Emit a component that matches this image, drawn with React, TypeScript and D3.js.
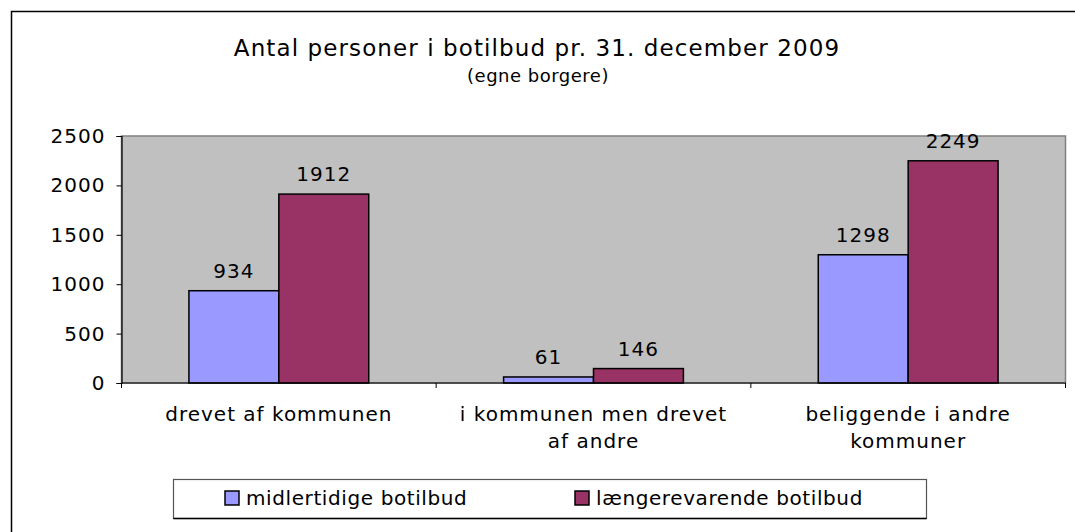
import { useEffect, useRef } from "react";
import * as d3 from "d3";

const categories = [
  ["drevet af kommunen"],
  ["i kommunen men drevet", "af andre"],
  ["beliggende i andre", "kommuner"],
];
const seriesNames = ["midlertidige botilbud", "længerevarende botilbud"];
const midlertidige = [934, 61, 1298];
const laengerevarende = [1912, 146, 2249];
const yTicks = [0, 500, 1000, 1500, 2000, 2500];
const colors = ["#9999FF", "#993366"];

const FONT = "'DejaVu Sans', Verdana, sans-serif";

export default function App() {
  const svgElem = useRef<SVGSVGElement>(null);

  useEffect(() => {
    const width = 1075;
    const height = 532;
    const svg = d3.select(svgElem.current);
    svg.selectAll("*").remove();
    svg.attr("width", width).attr("height", height);

    // chart frame (right and bottom edges are cut off in the original)
    svg
      .append("rect")
      .attr("x", 11.5)
      .attr("y", 11.5)
      .attr("width", width + 20)
      .attr("height", height + 20)
      .attr("fill", "#fff")
      .attr("stroke", "#000")
      .attr("stroke-width", 1.5);

    svg
      .append("text")
      .attr("x", 537)
      .attr("y", 56)
      .attr("text-anchor", "middle")
      .attr("font-family", FONT)
      .attr("font-size", 23)
      .attr("letter-spacing", 1.1)
      .text("Antal personer i botilbud pr. 31. december 2009");
    svg
      .append("text")
      .attr("x", 538)
      .attr("y", 82)
      .attr("text-anchor", "middle")
      .attr("font-family", FONT)
      .attr("font-size", 18)
      .attr("letter-spacing", 0.5)
      .text("(egne borgere)");

    const left = 121.5,
      right = 1065.5,
      top = 136,
      bottom = 383;

    const x = d3
      .scaleBand<number>()
      .domain(d3.range(categories.length))
      .range([left, right]);
    const inner = d3
      .scaleBand<number>()
      .domain([0, 1])
      .range([0, x.bandwidth()])
      .paddingInner(0)
      .paddingOuter(0.75);
    const y = d3.scaleLinear().domain([0, 2500]).range([bottom, top]);

    svg
      .append("rect")
      .attr("x", left)
      .attr("y", top)
      .attr("width", right - left)
      .attr("height", bottom - top)
      .attr("fill", "#C0C0C0")
      .attr("stroke", "#808080")
      .attr("stroke-width", 1.5);

    const data = [midlertidige, laengerevarende];
    const g = svg.append("g");
    data.forEach((vals, s) => {
      vals.forEach((v, i) => {
        const bx = x(i)! + inner(s)!;
        g.append("rect")
          .attr("x", bx)
          .attr("y", y(v))
          .attr("width", inner.bandwidth())
          .attr("height", y(0) - y(v))
          .attr("fill", colors[s])
          .attr("stroke", "#000")
          .attr("stroke-width", 1.5);
        g.append("text")
          .attr("x", bx + inner.bandwidth() / 2)
          .attr("y", y(v) - 13)
          .attr("text-anchor", "middle")
          .attr("font-family", FONT)
          .attr("font-size", 20)
          .attr("letter-spacing", 1)
          .text(v);
      });
    });

    // y axis
    const yAxis = svg
      .append("g")
      .attr("transform", `translate(${left},0)`)
      .call(
        d3
          .axisLeft(y)
          .tickValues(yTicks)
          .tickFormat(d3.format("d"))
          .tickSize(5)
          .tickPadding(11)
      );
    yAxis.select(".domain").attr("stroke", "#000").attr("stroke-width", 1.2);
    yAxis.selectAll("line").attr("stroke", "#000");
    yAxis
      .selectAll("text")
      .attr("font-family", FONT)
      .attr("font-size", 20)
      .attr("letter-spacing", 1)
      .attr("fill", "#000");

    // x axis
    svg
      .append("line")
      .attr("x1", left)
      .attr("x2", right)
      .attr("y1", bottom)
      .attr("y2", bottom)
      .attr("stroke", "#000")
      .attr("stroke-width", 1.2);
    d3.range(categories.length + 1).forEach((i) => {
      const tx = left + i * x.step();
      svg
        .append("line")
        .attr("x1", tx)
        .attr("x2", tx)
        .attr("y1", bottom)
        .attr("y2", bottom + 5)
        .attr("stroke", "#000");
    });
    categories.forEach((lines, i) => {
      const t = svg
        .append("text")
        .attr("text-anchor", "middle")
        .attr("font-family", FONT)
        .attr("font-size", 20)
        .attr("letter-spacing", 1);
      lines.forEach((line, k) => {
        t.append("tspan")
          .attr("x", x(i)! + x.bandwidth() / 2)
          .attr("y", 421 + k * 27)
          .text(line);
      });
    });

    // legend
    svg
      .append("rect")
      .attr("x", 173.5)
      .attr("y", 479.5)
      .attr("width", 753)
      .attr("height", 39)
      .attr("fill", "#fff")
      .attr("stroke", "#555")
      .attr("stroke-width", 1.2);
    svg
      .append("line")
      .attr("x1", 173.5)
      .attr("x2", 926.5)
      .attr("y1", 518.5)
      .attr("y2", 518.5)
      .attr("stroke", "#000")
      .attr("stroke-width", 1.5);
    const legendX = [225, 575];
    seriesNames.forEach((name, s) => {
      svg
        .append("rect")
        .attr("x", legendX[s])
        .attr("y", 491)
        .attr("width", 14)
        .attr("height", 14)
        .attr("fill", colors[s])
        .attr("stroke", "#000")
        .attr("stroke-width", 1.5);
      svg
        .append("text")
        .attr("x", legendX[s] + 21)
        .attr("y", 505)
        .attr("font-family", FONT)
        .attr("font-size", 20)
        .attr("letter-spacing", 0.6)
        .text(name);
    });
  }, []);

  return (
    <div style={{ position: "absolute", left: 0, top: 0 }}>
      <svg ref={svgElem} style={{ display: "block" }}></svg>
    </div>
  );
}
